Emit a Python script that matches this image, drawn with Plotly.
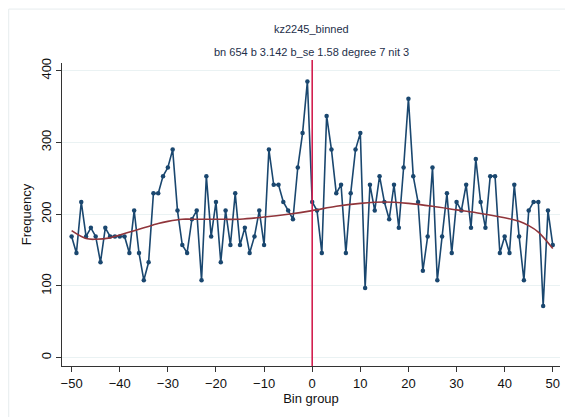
import plotly.graph_objects as go

bins = list(range(-50, 51))
freq = [169, 146, 217, 169, 181, 169, 133, 181, 169, 169,
        169, 169, 146, 205, 146, 108, 133, 229, 229, 253,
        265, 290, 205, 157, 146, 193, 205, 108, 253, 169,
        217, 133, 205, 157, 229, 157, 181, 146, 169, 205,
        157, 290, 241, 241, 217, 205, 193, 265, 313, 385,
        217, 205, 146, 337, 290, 229, 241, 146, 229, 290,
        313, 97, 241, 205, 253, 217, 193, 241, 181, 265,
        361, 253, 217, 121, 169, 265, 108, 169, 229, 146,
        217, 205, 241, 181, 277, 217, 181, 253, 253, 146,
        169, 146, 241, 169, 108, 205, 217, 217, 72, 205,
        157]

fit_x = [-50, -47, -45, -42, -40, -37, -35, -32, -30, -27, -25, -20, -15, -10,
         -5, 0, 5, 10, 15, 20, 25, 30, 35, 40, 43, 45, 47, 50]
fit_y = [177, 166, 165, 167, 171, 177, 181, 187, 190, 193, 193, 193, 193, 196,
         200, 205, 211, 215, 217, 215, 211, 206, 201, 195, 190, 184, 175, 152]

x_ticks = [-50, -40, -30, -20, -10, 0, 10, 20, 30, 40, 50]
y_ticks = [0, 100, 200, 300, 400]

title_text = "kz2245_binned"
subtitle_text = "bn 654 b 3.142 b_se 1.58 degree 7 nit 3"

navy = "#1a476f"
maroon = "#90353b"
font = "Liberation Sans, Arial, sans-serif"

fig = go.Figure()
fig.add_trace(go.Scatter(x=bins, y=freq, mode="lines+markers",
                         line=dict(color=navy, width=1.6),
                         marker=dict(color=navy, size=4.5),
                         showlegend=False, hoverinfo="skip"))
fig.add_trace(go.Scatter(x=fit_x, y=fit_y, mode="lines",
                         line=dict(color=maroon, width=1.6, shape="spline"),
                         showlegend=False, hoverinfo="skip"))

fig.add_shape(type="line", xref="x", yref="paper", x0=0, x1=0, y0=0, y1=1.01,
              line=dict(color="#d21f4f", width=1.6))
fig.add_shape(type="rect", xref="paper", yref="paper", x0=-0.107, x1=1.2, y0=-0.5, y1=1.178,
              line=dict(color="#e6ecee", width=1), layer="below")

fig.update_layout(
    width=565, height=409,
    margin=dict(l=54, r=13, t=55, b=51),
    paper_bgcolor="white", plot_bgcolor="white",
    font=dict(family=font, size=13, color="#111111"),
    annotations=[
        dict(text=title_text, xref="paper", yref="paper", x=0.5, y=1.0, yshift=42,
             showarrow=False, font=dict(size=11, color="#1e2f4a", family=font)),
        dict(text=subtitle_text, xref="paper", yref="paper", x=0.5, y=1.0, yshift=19,
             showarrow=False, font=dict(size=11, color="#1e2f4a", family=font)),
    ],
)
fig.update_xaxes(range=[-52, 51.5], tickvals=x_ticks, ticks="outside", ticklen=5,
                 tickcolor="#333333", showline=True, linecolor="#333333", linewidth=1,
                 showgrid=False, zeroline=False,
                 title=dict(text="Bin group", font=dict(size=13), standoff=2),
                 tickfont=dict(size=13))
fig.update_yaxes(range=[-11.6, 410.7], tickvals=y_ticks, ticks="outside", ticklen=5,
                 tickcolor="#333333", showline=True, linecolor="#333333", linewidth=1,
                 showgrid=True, gridcolor="#eaf2f3", gridwidth=1, zeroline=False,
                 tickangle=-90,
                 title=dict(text="Frequency", font=dict(size=13), standoff=4),
                 tickfont=dict(size=13))

fig.write_html("out.html")
